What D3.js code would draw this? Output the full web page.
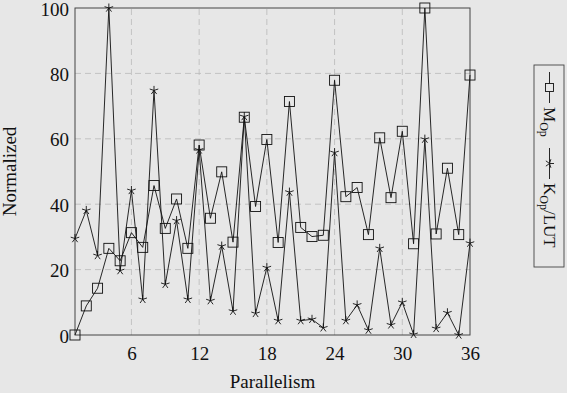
<!DOCTYPE html>
<html>
<head>
<meta charset="utf-8">
<script src="https://cdn.jsdelivr.net/npm/d3@7"></script>
<style>
  html, body { margin: 0; padding: 0; background: #e7e7e7; }
  svg { display: block; font-family: "Liberation Serif", "DejaVu Serif", serif; }
</style>
</head>
<body>
<svg id="chart"></svg>
<script>
const width = 567;
const height = 393;

// parallelism levels 1..36
const parallelism = d3.range(1, 37);

// M_Op (square markers)
const mOp = [0, 8.9, 14.3, 26.5, 22.7, 31.3, 26.8, 45.7, 32.6, 41.6, 26.5, 58.1,
    35.7, 49.9, 28.4, 66.6, 39.3, 59.8, 28.3, 71.4, 32.9, 30.1, 30.5, 77.9,
    42.3, 45.1, 30.7, 60.3, 42.0, 62.3, 27.9, 100, 30.9, 51.0, 30.7, 79.5];

// K_Op/LUT (star markers)
const kOpLut = [29.5, 38.1, 24.3, 100, 19.7, 44.2, 10.9, 74.8, 15.5, 35.0, 10.9, 56.6,
    10.5, 27.2, 7.3, 66.8, 6.6, 20.6, 4.4, 43.7, 4.4, 4.8, 2.2, 55.8,
    4.4, 9.2, 1.5, 26.5, 3.1, 10.0, 0.2, 59.9, 2.0, 6.8, 0.0, 28.1];

const xTicks = [6, 12, 18, 24, 30, 36];
const yTicks = [0, 20, 40, 60, 80, 100];

const margin = { left: 75, right: 97, top: 8, bottom: 58 };

const svg = d3.select("#chart")
    .attr("width", width)
    .attr("height", height);

const x = d3.scaleLinear()
    .domain([1, 36])
    .range([margin.left, width - margin.right]);

const y = d3.scaleLinear()
    .domain([0, 100])
    .range([height - margin.bottom, margin.top]);

// grid
const grid = svg.append("g")
    .attr("stroke", "#b9b9b9")
    .attr("stroke-width", 0.8)
    .attr("stroke-dasharray", "6,4");

grid.selectAll("line.gx")
    .data(xTicks.slice(0, -1))
    .join("line")
    .attr("x1", d => x(d)).attr("x2", d => x(d))
    .attr("y1", y(0)).attr("y2", y(100));

grid.selectAll("line.gy")
    .data(yTicks.slice(1, -1))
    .join("line")
    .attr("x1", x(1)).attr("x2", x(36))
    .attr("y1", d => y(d)).attr("y2", d => y(d));

// frame
svg.append("rect")
    .attr("x", x(1))
    .attr("y", y(100))
    .attr("width", x(36) - x(1))
    .attr("height", y(0) - y(100))
    .attr("fill", "none")
    .attr("stroke", "#444")
    .attr("stroke-width", 1);

// axes (labels only, pgfplots style)
const xAxis = svg.append("g")
    .attr("transform", `translate(0,${y(0)})`)
    .call(d3.axisBottom(x).tickValues(xTicks).tickSize(0).tickPadding(8));
const yAxis = svg.append("g")
    .attr("transform", `translate(${x(1)},0)`)
    .call(d3.axisLeft(y).tickValues(yTicks).tickSize(0).tickPadding(6));

[xAxis, yAxis].forEach(a => {
    a.select(".domain").remove();
    a.selectAll("text")
        .attr("font-family", "Liberation Serif, serif")
        .attr("font-size", 19)
        .attr("fill", "#111");
});
xAxis.selectAll("text").attr("dy", "0.9em");
yAxis.selectAll("text").attr("dy", "0.37em");

// axis titles
svg.append("text")
    .attr("x", (x(1) + x(36)) / 2)
    .attr("y", 388)
    .attr("text-anchor", "middle")
    .attr("font-size", 19)
    .attr("fill", "#111")
    .text("Parallelism");

svg.append("text")
    .attr("transform", `translate(16,${(y(0) + y(100)) / 2}) rotate(-90)`)
    .attr("text-anchor", "middle")
    .attr("font-size", 19)
    .attr("fill", "#111")
    .text("Normalized");

// marker shapes
const squareSize = 10;
const starPath = (r => {
    let p = "";
    for (let i = 0; i < 5; i++) {
        const a = -Math.PI / 2 + i * 2 * Math.PI / 5;
        p += `M0,0L${(r * Math.cos(a)).toFixed(2)},${(r * Math.sin(a)).toFixed(2)}`;
    }
    return p;
})(4.5);

const line = d3.line()
    .x((d, i) => x(parallelism[i]))
    .y(d => y(d));

const plot = svg.append("g");

// M_Op series
plot.append("path")
    .datum(mOp)
    .attr("d", line)
    .attr("fill", "none")
    .attr("stroke", "#111")
    .attr("stroke-width", 0.9);

plot.selectAll("rect.sq")
    .data(mOp)
    .join("rect")
    .attr("class", "sq")
    .attr("x", (d, i) => x(parallelism[i]) - squareSize / 2)
    .attr("y", d => y(d) - squareSize / 2)
    .attr("width", squareSize)
    .attr("height", squareSize)
    .attr("fill", "none")
    .attr("stroke", "#111")
    .attr("stroke-width", 0.9);

// K_Op/LUT series
plot.append("path")
    .datum(kOpLut)
    .attr("d", line)
    .attr("fill", "none")
    .attr("stroke", "#111")
    .attr("stroke-width", 0.9);

plot.selectAll("path.star")
    .data(kOpLut)
    .join("path")
    .attr("class", "star")
    .attr("transform", (d, i) => `translate(${x(parallelism[i])},${y(d)})`)
    .attr("d", starPath)
    .attr("fill", "none")
    .attr("stroke", "#111")
    .attr("stroke-width", 0.9);

// legend, rotated to read top to bottom
const legendBox = { x: 534, y: 65, w: 30, h: 202 };
svg.append("rect")
    .attr("x", legendBox.x)
    .attr("y", legendBox.y)
    .attr("width", legendBox.w)
    .attr("height", legendBox.h)
    .attr("fill", "none")
    .attr("stroke", "#444")
    .attr("stroke-width", 0.9);

const legend = svg.append("g")
    .attr("transform", `translate(${legendBox.x + 15.5},${legendBox.y}) rotate(90)`)
    .attr("fill", "#111");

const entries = [
    { name: "M", sub: "Op", rest: "", start: 7, marker: "square" },
    { name: "K", sub: "Op", rest: "/LUT", start: 83, marker: "star" }
];

entries.forEach(e => {
    const g = legend.append("g").attr("transform", `translate(${e.start},0)`);
    g.append("line")
        .attr("x1", 0).attr("x2", 31)
        .attr("y1", 0).attr("y2", 0)
        .attr("stroke", "#111")
        .attr("stroke-width", 0.9);
    if (e.marker === "square") {
        g.append("rect")
            .attr("x", 15.5 - 4).attr("y", -4)
            .attr("width", 8).attr("height", 8)
            .attr("fill", "#e7e7e7")
            .attr("stroke", "#111")
            .attr("stroke-width", 0.9);
    } else {
        g.append("path")
            .attr("transform", "translate(15.5,0)")
            .attr("d", starPath)
            .attr("fill", "none")
            .attr("stroke", "#111")
            .attr("stroke-width", 0.9);
    }
    const t = g.append("text")
        .attr("x", 35)
        .attr("y", 6)
        .attr("font-size", 17);
    t.append("tspan").text(e.name);
    t.append("tspan").attr("font-size", 12).attr("dy", 4).text(e.sub);
    if (e.rest) t.append("tspan").attr("dy", -4).text(e.rest);
});
</script>
</body>
</html>
